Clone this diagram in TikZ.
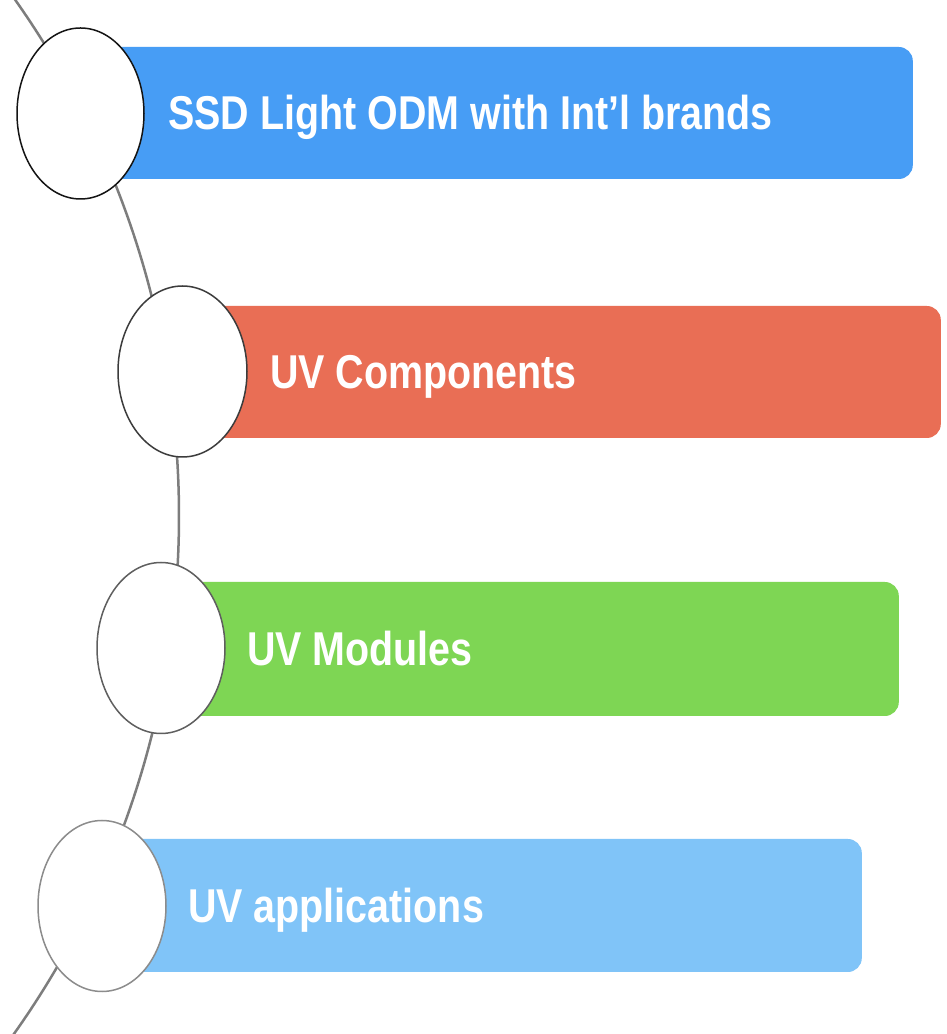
\documentclass[tikz,border=0pt]{standalone}
\usepackage{fontspec}
\newfontfamily\lblfont{Liberation Sans}[FakeStretch=0.83]
\usetikzlibrary{shapes.geometric}
\definecolor{cblue}{RGB}{71,157,245}
\definecolor{cred}{RGB}{233,110,85}
\definecolor{cgreen}{RGB}{126,214,84}
\definecolor{clight}{RGB}{128,196,248}
\definecolor{arcgray}{RGB}{125,125,125}
\tikzset{
  bar/.style={rectangle, rounded corners=14pt, anchor=east, inner sep=0pt, draw=none},
  dot/.style={ellipse, fill=white, inner sep=0pt, minimum width=128pt, minimum height=171pt, line width=1.5pt},
  lbl/.style={anchor=base west, inner sep=0pt, text=white, font=\lblfont\bfseries\fontsize{47.5}{50}\selectfont},
}
\begin{document}
\begin{tikzpicture}[x=1pt,y=1pt]
\useasboundingbox (0,0) rectangle (946,1034);
\fill[white] (0,0) rectangle (946,1034);
\begin{scope}
\clip (0,0) rectangle (946,1034);
\draw[arcgray, line width=2.5pt] ([shift={(-716,518)}]37:895) arc[start angle=37, end angle=-37, radius=895];
\end{scope}
% bars
\node[bar, fill=cblue,  minimum width=833pt, minimum height=132pt] (b1) at (913,921) {};
\node[bar, fill=cred,   minimum width=758pt, minimum height=132pt] (b2) at (941,662) {};
\node[bar, fill=cgreen, minimum width=738pt, minimum height=134pt] (b3) at (899,385) {};
\node[bar, fill=clight, minimum width=760pt, minimum height=133pt] (b4) at (862,128.5) {};
% circles
\node[dot, draw={rgb,255:red,20;green,20;blue,20}, minimum width=127pt] (e1) at (80.5,920.5) {};
\node[dot, draw={rgb,255:red,60;green,60;blue,60}, minimum width=129pt] (e2) at (182.5,662.5) {};
\node[dot, draw={rgb,255:red,95;green,95;blue,95}] (e3) at (161,386) {};
\node[dot, draw={rgb,255:red,140;green,140;blue,140}] (e4) at (102,128) {};
% labels
\node[lbl] (t1) at (168,904) {SSD Light ODM with Int’l brands};
\node[lbl] (t2) at (270,645) {UV Components};
\node[lbl] (t3) at (247,368) {UV Modules};
\node[lbl] (t4) at (188,111.5) {UV applications};
\end{tikzpicture}
\end{document}
